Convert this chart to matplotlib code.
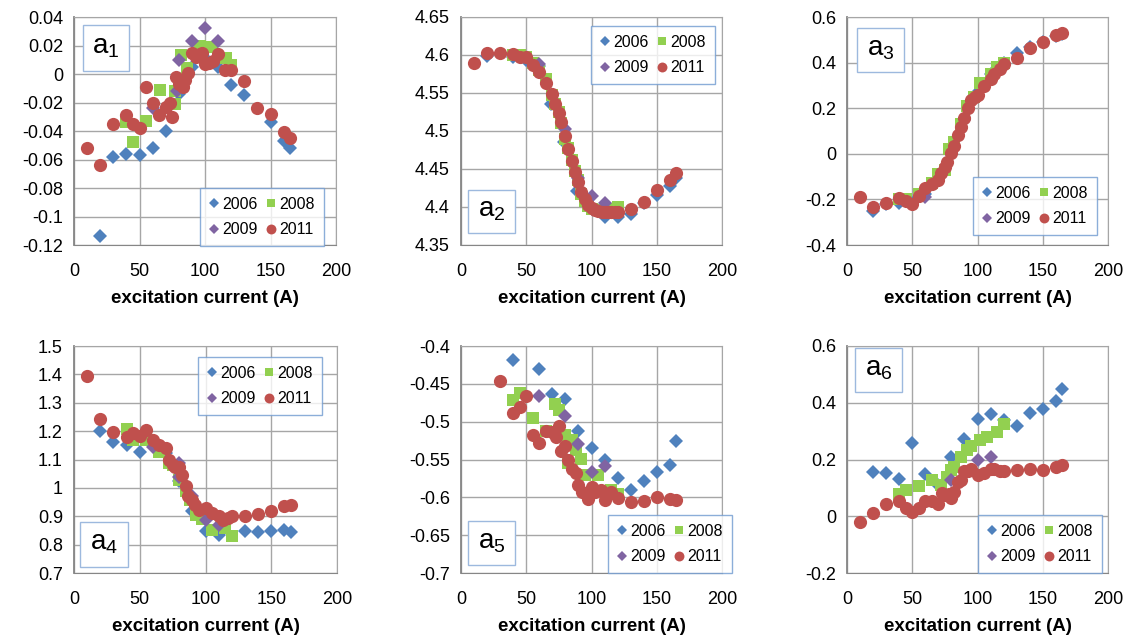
import matplotlib.pyplot as plt
from matplotlib.patches import Rectangle
from matplotlib.ticker import FuncFormatter, MultipleLocator

plt.rcParams['font.family'] = ['Liberation Sans', 'DejaVu Sans']

years = ['2006', '2008', '2009', '2011']

# ---- a1 ----
a1_2006_x = [20, 30, 40, 50, 60, 70, 80, 90, 100, 110, 120, 130, 150, 160, 165]
a1_2006_y = [-0.114, -0.058, -0.056, -0.057, -0.052, -0.040, -0.014, 0.005, 0.011, 0.005, -0.008, -0.015, -0.034, -0.047, -0.052]
a1_2008_x = [40, 45, 55, 66, 77, 77, 82, 86, 96, 105, 116, 120]
a1_2008_y = [-0.034, -0.048, -0.033, -0.011, -0.012, -0.021, 0.013, 0.004, 0.020, 0.019, 0.011, 0.006]
a1_2009_x = [60, 79, 80, 90, 100, 110]
a1_2009_y = [-0.024, -0.012, 0.010, 0.023, 0.032, 0.023]
a1_2011_x = [10, 20, 30, 40, 45, 50, 55, 60, 65, 70, 73, 75, 78, 80, 83, 85, 87, 90, 93, 96,
             98, 100, 103, 106, 110, 115, 120, 130, 140, 150, 160, 165]
a1_2011_y = [-0.052, -0.064, -0.035, -0.029, -0.035, -0.038, -0.009, -0.020, -0.029, -0.023, -0.020, -0.030,
             -0.002, -0.007, -0.009, -0.004, 0.001, 0.015, 0.012, 0.014, 0.015, 0.007, 0.008, 0.009, 0.014,
             0.003, 0.003, -0.005, -0.024, -0.028, -0.041, -0.045]

# ---- a2 ----
a2_2006_x = [20, 40, 50, 60, 69, 79, 89, 100, 110, 120, 130, 140, 150, 160, 165]
a2_2006_y = [4.599, 4.598, 4.593, 4.585, 4.536, 4.486, 4.421, 4.398, 4.387, 4.387, 4.391, 4.405, 4.416, 4.428, 4.438]
a2_2008_x = [40, 45, 50, 55, 60, 65, 70, 72, 75, 77, 80, 82, 85, 87, 90, 92, 95, 97, 100, 105, 110, 115, 120]
a2_2008_y = [4.600, 4.600, 4.597, 4.590, 4.580, 4.568, 4.548, 4.535, 4.525, 4.510, 4.490, 4.478, 4.462, 4.447,
             4.435, 4.417, 4.408, 4.401, 4.398, 4.396, 4.395, 4.397, 4.400]
a2_2009_x = [60, 80, 90, 100, 110]
a2_2009_y = [4.588, 4.502, 4.438, 4.414, 4.405]
a2_2011_x = [10, 20, 30, 40, 45, 50, 55, 60, 65, 70, 72, 75, 77, 80, 82, 85, 87, 90, 92, 95, 97, 100,
             103, 105, 108, 110, 113, 115, 118, 120, 130, 140, 150, 160, 165]
a2_2011_y = [4.590, 4.602, 4.602, 4.601, 4.597, 4.598, 4.587, 4.577, 4.563, 4.549, 4.536, 4.524, 4.512, 4.493,
             4.476, 4.461, 4.446, 4.433, 4.420, 4.410, 4.403, 4.399, 4.396, 4.395, 4.394, 4.393, 4.393, 4.393,
             4.394, 4.394, 4.398, 4.406, 4.422, 4.436, 4.445]

# ---- a3 ----
a3_2006_x = [20, 30, 40, 50, 60, 70, 80, 90, 100, 110, 120, 130, 140, 150, 160, 165]
a3_2006_y = [-0.25, -0.22, -0.215, -0.215, -0.175, -0.11, 0.0, 0.15, 0.27, 0.35, 0.40, 0.44, 0.47, 0.49, 0.515, 0.525]
a3_2008_x = [40, 45, 55, 65, 70, 75, 78, 82, 87, 92, 97, 102, 110, 115, 120]
a3_2008_y = [-0.20, -0.20, -0.175, -0.13, -0.09, -0.07, 0.02, 0.05, 0.13, 0.21, 0.25, 0.31, 0.35, 0.38, 0.40]
a3_2009_x = [60]
a3_2009_y = [-0.19]
a3_2011_x = [10, 20, 30, 40, 45, 50, 55, 60, 65, 70, 72, 75, 77, 80, 82, 85, 87, 90, 93, 95, 98, 100,
             105, 110, 113, 117, 120, 130, 140, 150, 160, 165]
a3_2011_y = [-0.19, -0.235, -0.214, -0.196, -0.205, -0.219, -0.187, -0.148, -0.133, -0.114, -0.085, -0.056,
             -0.034, 0.005, 0.034, 0.082, 0.119, 0.155, 0.20, 0.236, 0.25, 0.258, 0.296, 0.33, 0.35, 0.37,
             0.392, 0.42, 0.466, 0.49, 0.52, 0.53]

# ---- a4 ----
a4_2006_x = [20, 30, 40, 50, 70, 80, 90, 100, 110, 130, 140, 150, 160, 165]
a4_2006_y = [1.200, 1.161, 1.152, 1.128, 1.122, 1.023, 0.920, 0.849, 0.835, 0.849, 0.846, 0.848, 0.850, 0.846]
a4_2008_x = [40, 45, 55, 65, 72, 75, 80, 85, 88, 93, 97, 105, 115, 120]
a4_2008_y = [1.207, 1.169, 1.167, 1.126, 1.089, 1.080, 1.028, 0.990, 0.958, 0.905, 0.891, 0.853, 0.858, 0.832]
a4_2009_x = [60, 80, 80, 90, 100, 110]
a4_2009_y = [1.143, 1.089, 1.040, 0.970, 0.888, 0.868]
a4_2011_x = [10, 20, 30, 40, 45, 50, 55, 60, 65, 70, 72, 75, 77, 80, 82, 85, 87, 90, 92, 95, 100,
             105, 110, 113, 117, 120, 130, 140, 150, 160, 165]
a4_2011_y = [1.394, 1.242, 1.196, 1.179, 1.193, 1.183, 1.204, 1.169, 1.152, 1.141, 1.099, 1.081, 1.075,
             1.075, 1.046, 1.008, 0.972, 0.958, 0.940, 0.923, 0.929, 0.911, 0.900, 0.888, 0.895, 0.900,
             0.900, 0.908, 0.920, 0.935, 0.940]

# ---- a5 ----
a5_2006_x = [40, 60, 70, 80, 90, 100, 110, 120, 130, 140, 150, 160, 165]
a5_2006_y = [-0.418, -0.430, -0.463, -0.470, -0.512, -0.535, -0.550, -0.574, -0.590, -0.578, -0.567, -0.557, -0.526]
a5_2008_x = [40, 45, 55, 65, 72, 75, 80, 82, 85, 88, 92, 95, 105, 115, 120]
a5_2008_y = [-0.471, -0.462, -0.495, -0.512, -0.477, -0.485, -0.517, -0.555, -0.524, -0.537, -0.549, -0.571,
             -0.571, -0.590, -0.595]
a5_2009_x = [60, 80, 90, 100, 110]
a5_2009_y = [-0.466, -0.492, -0.530, -0.567, -0.559]
a5_2011_x = [30, 40, 45, 50, 55, 60, 65, 70, 73, 75, 77, 80, 82, 85, 88, 90, 93, 97, 100, 103, 107,
             110, 115, 120, 130, 140, 150, 160, 165]
a5_2011_y = [-0.446, -0.489, -0.481, -0.466, -0.517, -0.528, -0.512, -0.514, -0.520, -0.506, -0.539, -0.532,
             -0.550, -0.562, -0.568, -0.584, -0.593, -0.602, -0.586, -0.593, -0.590, -0.603, -0.593, -0.601,
             -0.606, -0.605, -0.600, -0.602, -0.604]

# ---- a6 ----
a6_2006_x = [20, 30, 40, 50, 60, 70, 80, 90, 100, 110, 120, 130, 140, 150, 160, 165]
a6_2006_y = [0.155, 0.152, 0.132, 0.257, 0.150, 0.110, 0.210, 0.273, 0.343, 0.362, 0.339, 0.318, 0.365,
             0.378, 0.407, 0.447]
a6_2008_x = [40, 45, 55, 65, 72, 77, 80, 82, 87, 92, 95, 102, 107, 115, 120]
a6_2008_y = [0.079, 0.091, 0.107, 0.126, 0.111, 0.140, 0.163, 0.175, 0.208, 0.234, 0.249, 0.270, 0.279,
             0.296, 0.325]
a6_2009_x = [80, 100, 110]
a6_2009_y = [0.126, 0.199, 0.208]
a6_2011_x = [10, 20, 30, 40, 45, 50, 55, 60, 65, 70, 73, 75, 78, 80, 82, 85, 87, 90, 93, 95, 100,
             105, 110, 113, 117, 120, 130, 140, 150, 160, 165]
a6_2011_y = [-0.019, 0.011, 0.043, 0.054, 0.029, 0.015, 0.029, 0.054, 0.052, 0.044, 0.081, 0.076, 0.080,
             0.064, 0.087, 0.119, 0.128, 0.158, 0.160, 0.166, 0.146, 0.154, 0.166, 0.165, 0.160, 0.158,
             0.164, 0.166, 0.164, 0.175, 0.179]

panels = [
    ('1', [(a1_2006_x, a1_2006_y), (a1_2008_x, a1_2008_y), (a1_2009_x, a1_2009_y), (a1_2011_x, a1_2011_y)],
     (-0.12, 0.04, 0.02)),
    ('2', [(a2_2006_x, a2_2006_y), (a2_2008_x, a2_2008_y), (a2_2009_x, a2_2009_y), (a2_2011_x, a2_2011_y)],
     (4.35, 4.65, 0.05)),
    ('3', [(a3_2006_x, a3_2006_y), (a3_2008_x, a3_2008_y), (a3_2009_x, a3_2009_y), (a3_2011_x, a3_2011_y)],
     (-0.4, 0.6, 0.2)),
    ('4', [(a4_2006_x, a4_2006_y), (a4_2008_x, a4_2008_y), (a4_2009_x, a4_2009_y), (a4_2011_x, a4_2011_y)],
     (0.7, 1.5, 0.1)),
    ('5', [(a5_2006_x, a5_2006_y), (a5_2008_x, a5_2008_y), (a5_2009_x, a5_2009_y), (a5_2011_x, a5_2011_y)],
     (-0.7, -0.4, 0.05)),
    ('6', [(a6_2006_x, a6_2006_y), (a6_2008_x, a6_2008_y), (a6_2009_x, a6_2009_y), (a6_2011_x, a6_2011_y)],
     (-0.2, 0.6, 0.2)),
]

# plot areas in pixels: left, top, width, height
boxes = [(74, 17, 262, 228), (461, 17, 261, 228), (847, 17, 261, 228),
         (74, 346, 263, 227), (461, 346, 261, 227), (847, 346, 261, 227)]
# label boxes (left, top, w, h) and legend upper-left corners, pixels
tag_boxes = [(83, 25, 46, 46), (468, 190, 47, 43), (857, 28, 47, 44),
             (80, 522, 48, 45), (468, 521, 47, 44), (855, 348, 47, 44)]
leg_corners = [(200, 188), (591, 26), (973, 177), (198, 357), (608, 515), (978, 515)]

styles = [dict(marker='D', color='#4F81BD', ms=7),
          dict(marker='s', color='#92D050', ms=8.5),
          dict(marker='D', color='#8064A2', ms=7),
          dict(marker='o', color='#C0504D', ms=9.5)]

W, H = 1126, 636
fig = plt.figure(figsize=(W / 100, H / 100), dpi=100)


def fx(px):
    return px / W


def fy(py):
    return 1 - py / H


for (num, series, (ylo, yhi, ystep)), (l, t, w, h), tag, corner in zip(panels, boxes, tag_boxes, leg_corners):
    ax = fig.add_axes([fx(l), fy(t + h), w / W, h / H])
    handles = []
    for (xs, ys), st, yr in zip(series, styles, years):
        ln, = ax.plot(xs, ys, linestyle='none', marker=st['marker'], color=st['color'],
                      markersize=st['ms'], markeredgewidth=0, label=yr)
        handles.append(ln)
    ax.set_xlim(0, 200)
    ax.set_ylim(ylo, yhi)
    ax.xaxis.set_major_locator(MultipleLocator(50))
    ax.yaxis.set_major_locator(MultipleLocator(ystep))
    ax.yaxis.set_major_formatter(FuncFormatter(lambda v, p: f"{round(v, 6):g}"))
    ax.grid(True, color='#A6A6A6', linewidth=1)
    ax.set_axisbelow(True)
    for sp in ax.spines.values():
        sp.set_color('#A6A6A6')
    ax.spines['left'].set_color('#868686')
    ax.spines['left'].set_linewidth(1.3)
    ax.spines['bottom'].set_color('#868686')
    ax.tick_params(length=0, labelsize=13, colors='black')
    ax.tick_params(axis='x', pad=13)
    ax.tick_params(axis='y', pad=8)
    ax.set_xlabel('excitation current (A)', fontsize=13.5, fontweight='bold', labelpad=7)

    # legend filled row by row: 2006 2008 / 2009 2011
    order = [0, 2, 1, 3]
    leg = ax.legend([handles[i] for i in order], [years[i] for i in order], ncol=2, loc='upper left',
                    bbox_to_anchor=(fx(corner[0]), fy(corner[1])), bbox_transform=fig.transFigure,
                    fontsize=11.5, frameon=True, fancybox=False, borderaxespad=0, borderpad=0.55,
                    handlelength=0.6, handletextpad=0.25, columnspacing=0.5, labelspacing=0.65,
                    markerscale=0.75)
    leg.get_frame().set_edgecolor('#6F9AD0')
    leg.get_frame().set_linewidth(1)

    tl, tt, tw, th = tag
    fig.add_artist(Rectangle((fx(tl), fy(tt + th)), tw / W, th / H, transform=fig.transFigure,
                             facecolor='white', edgecolor='#9DB9DE', linewidth=1, zorder=5))
    fig.text(fx(tl + tw / 2), fy(tt + th / 2) + 0.002, r'$\mathregular{a_' + num + '}$',
             ha='center', va='center', fontsize=20, zorder=6)

fig.savefig('out.png', dpi=100)
